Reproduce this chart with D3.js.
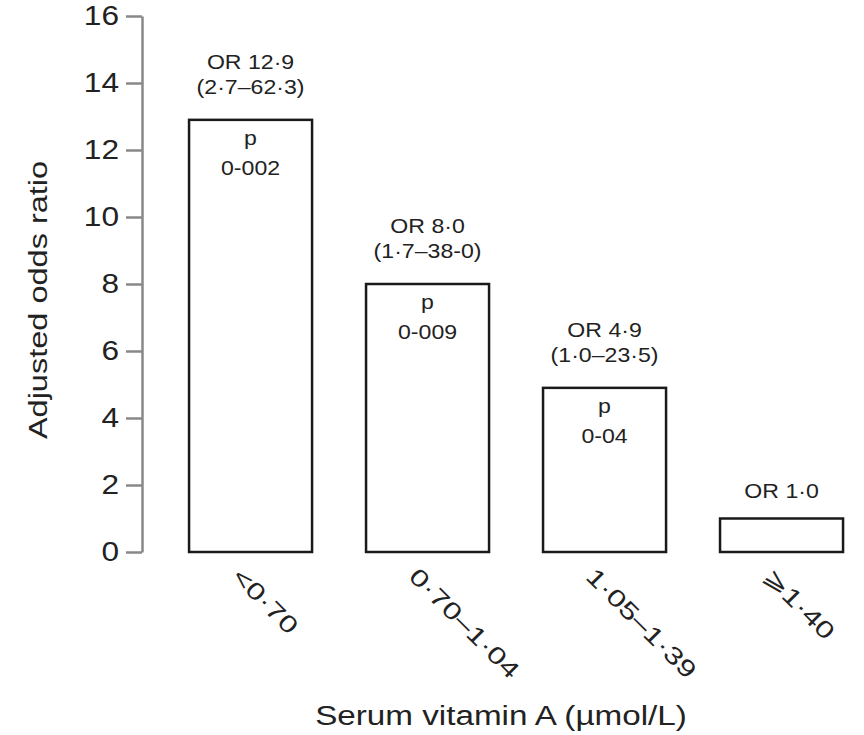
<!DOCTYPE html>
<html>
<head>
<meta charset="utf-8">
<script src="https://cdn.jsdelivr.net/npm/d3@7"></script>
<style>
  html, body { margin: 0; padding: 0; background: #fff; }
  svg text { font-family: "Liberation Sans", Arial, sans-serif; fill: #222; }
</style>
</head>
<body>
<svg id="chart" width="864" height="735"></svg>
<script>
const categories = ["<0·70", "0·70–1·04", "1·05–1·39", "⩾1·40"];
const oddsRatios = [12.9, 8.0, 4.9, 1.0];
const orLabels = ["OR 12·9", "OR 8·0", "OR 4·9", "OR 1·0"];
const ciLabels = ["(2·7–62·3)", "(1·7–38-0)", "(1·0–23·5)", ""];
const pValues = ["0-002", "0-009", "0-04", ""];
const yTicks = [0, 2, 4, 6, 8, 10, 12, 14, 16];
const yTitle = "Adjusted odds ratio";
const xTitle = "Serum vitamin A (µmol/L)";

const svg = d3.select("#chart");

function stretch(sel, k) {
  sel.each(function () {
    const len = this.getComputedTextLength();
    if (len > 0) {
      d3.select(this).attr("textLength", len * k).attr("lengthAdjust", "spacingAndGlyphs");
    }
  });
}

const y = d3.scaleLinear().domain([0, 16]).range([552, 16]);
const x = d3.scaleBand().domain(categories).range([162.5, 869.6])
  .paddingInner(0.305).paddingOuter(0.15);

// Y axis
const axisX = 142;
const yAxis = d3.axisLeft(y).tickValues(yTicks).tickSize(16).tickSizeOuter(0).tickPadding(7)
  .tickFormat(d3.format("d"));
const gY = svg.append("g").attr("transform", `translate(${axisX},0)`).call(yAxis);
gY.select(".domain").attr("stroke", "#888").attr("stroke-width", 2.5);
gY.selectAll(".tick line").attr("stroke", "#888").attr("stroke-width", 2.5);
gY.selectAll(".tick text").attr("font-size", 27).attr("fill", "#222")
  .style("font-family", '"Liberation Sans", Arial, sans-serif');
stretch(gY.selectAll(".tick text"), 1.17);

// Y title
const yt = svg.append("text")
  .attr("transform", "translate(47,300) rotate(-90)")
  .attr("text-anchor", "middle")
  .attr("font-size", 25)
  .text(yTitle);
stretch(yt, 1.3);

// Bars
const data = categories.map((c, i) => ({
  c, v: oddsRatios[i], or: orLabels[i], ci: ciLabels[i], p: pValues[i]
}));

svg.append("g").selectAll("rect").data(data).join("rect")
  .attr("x", d => x(d.c))
  .attr("y", d => y(d.v))
  .attr("width", x.bandwidth())
  .attr("height", d => y(0) - y(d.v))
  .attr("fill", "#fff")
  .attr("stroke", "#1a1a1a")
  .attr("stroke-width", 2.5);

const ann = svg.append("g").attr("font-size", 21).attr("text-anchor", "middle");
data.forEach(d => {
  const cx = x(d.c) + x.bandwidth() / 2;
  const top = y(d.v);
  if (d.ci) {
    stretch(ann.append("text").attr("x", cx).attr("y", top - 51).text(d.or), 1.1);
    stretch(ann.append("text").attr("x", cx).attr("y", top - 26).text(d.ci), 1.1);
  } else {
    stretch(ann.append("text").attr("x", cx).attr("y", top - 21).text(d.or), 1.1);
  }
  if (d.p) {
    stretch(ann.append("text").attr("x", cx).attr("y", top + 25).text("p"), 1.1);
    stretch(ann.append("text").attr("x", cx).attr("y", top + 55).text(d.p), 1.1);
  }
});

// X category labels (rotated)
const xl = svg.append("g").selectAll("text").data(categories).join("text")
  .attr("transform", d => {
    const cx = x(d) + x.bandwidth() / 2;
    return `translate(${cx - 20},578) rotate(45)`;
  })
  .attr("text-anchor", "start")
  .attr("font-size", 24)
  .text(d => d);
stretch(xl, 1.32);

// X title
const xt = svg.append("text")
  .attr("x", 501).attr("y", 725)
  .attr("text-anchor", "middle")
  .attr("font-size", 27)
  .text(xTitle);
stretch(xt, 1.23);
</script>
</body>
</html>
